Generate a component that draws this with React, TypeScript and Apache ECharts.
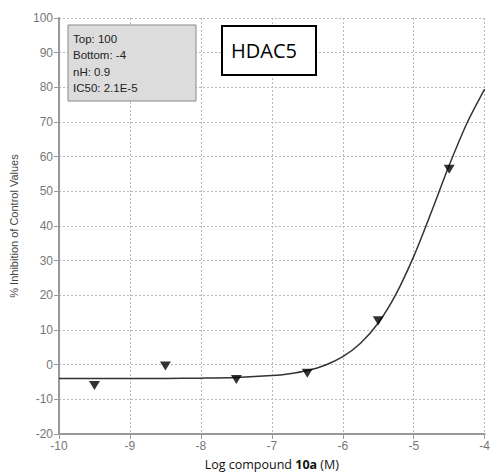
import React, { useEffect, useRef } from "react";
import * as echarts from "echarts";

const pointX = [-9.5, -8.5, -7.5, -6.5, -5.5, -4.5];
const pointY = [-6.0, -0.4, -4.3, -2.5, 12.7, 56.4];

const curveX = [-10, -9.5, -9, -8.5, -8, -7.5, -7, -6.75, -6.5, -6.25, -6, -5.75, -5.5, -5.25, -5, -4.75, -4.5, -4.25, -4];
const curveY = [-4.0, -4.0, -3.99, -3.96, -3.89, -3.7, -3.16, -2.6, -1.67, -0.15, 2.31, 6.18, 12.01, 20.35, 31.25, 44.1, 57.5, 69.65, 79.5];

const fitLines = ["Top: 100", "Bottom: -4", "nH: 0.9", "IC50: 2.1E-5"];
const targetName = "HDAC5";

export default function App() {
  const ref = useRef<HTMLDivElement>(null);
  useEffect(() => {
    if (!ref.current) return;
    const chart = echarts.init(ref.current, undefined, { renderer: "svg" });
    const gridColor = "#b8b8b8";
    chart.setOption({
      animation: false,
      backgroundColor: "#ffffff",
      grid: { left: 59, right: 5, top: 18, bottom: 39, containLabel: false },
      xAxis: {
        type: "value",
        min: -10,
        max: -4,
        interval: 1,
        name: "{n|Log compound }{b|10a}{n| (M)}",
        nameLocation: "middle",
        nameGap: 24,
        nameTextStyle: {
          rich: {
            n: { fontFamily: "Open Sans", fontSize: 12.5, color: "#111" },
            b: { fontFamily: "Open Sans", fontSize: 12.5, fontWeight: "bold", color: "#111" },
          },
        },
        axisLine: { show: true, onZero: false, lineStyle: { color: "#999", width: 2 } },
        axisTick: { show: true, length: 5, lineStyle: { color: "#999" } },
        axisLabel: { color: "#777", fontFamily: "Liberation Sans", fontSize: 12, margin: 6 },
        splitLine: { show: true, lineStyle: { color: gridColor, type: [2, 2], width: 1 } },
      },
      yAxis: {
        type: "value",
        min: -20,
        max: 100,
        interval: 10,
        name: "% Inhibition of Control Values",
        nameLocation: "middle",
        nameGap: 40,
        nameRotate: 90,
        nameTextStyle: { fontFamily: "Liberation Sans", fontSize: 11, color: "#444" },
        axisLine: { show: true, onZero: false, lineStyle: { color: "#999", width: 2 } },
        axisTick: { show: true, length: 5, lineStyle: { color: "#999" } },
        axisLabel: { color: "#777", fontFamily: "Liberation Sans", fontSize: 12, margin: 6 },
        splitLine: { show: true, lineStyle: { color: gridColor, type: [2, 2], width: 1 } },
      },
      series: [
        {
          type: "line",
          data: curveX.map((x, i) => [x, curveY[i]]),
          smooth: 0.3,
          showSymbol: false,
          lineStyle: { color: "#333", width: 1.5 },
          z: 2,
        },
        {
          type: "scatter",
          data: pointX.map((x, i) => [x, pointY[i]]),
          symbol: "triangle",
          symbolRotate: 180,
          symbolSize: [11, 9],
          itemStyle: { color: "#000" },
          z: 3,
        },
      ],
      graphic: [
        {
          type: "rect",
          shape: { x: 68, y: 25, width: 128, height: 76 },
          style: { fill: "#dcdcdc", stroke: "#888", lineWidth: 1 },
          z: 10,
        },
        ...fitLines.map((t, i) => ({
          type: "text",
          x: 73,
          y: 39 + i * 16.4,
          style: { text: t, fill: "#222", font: "11.5px 'Liberation Sans'", textVerticalAlign: "middle" },
          z: 11,
        })),
        {
          type: "rect",
          shape: { x: 222, y: 26, width: 94, height: 49 },
          style: { fill: "#ffffff", stroke: "#000", lineWidth: 2 },
          z: 10,
        },
        {
          type: "text",
          x: 231,
          y: 50,
          style: { text: targetName, fill: "#000", font: "20px 'Open Sans'", textVerticalAlign: "middle" },
          z: 11,
        },
      ],
    });
    return () => chart.dispose();
  }, []);
  return (
    <div
      ref={ref}
      style={{ position: "fixed", left: 0, top: 0, width: 493, height: 476 }}
    />
  );
}
